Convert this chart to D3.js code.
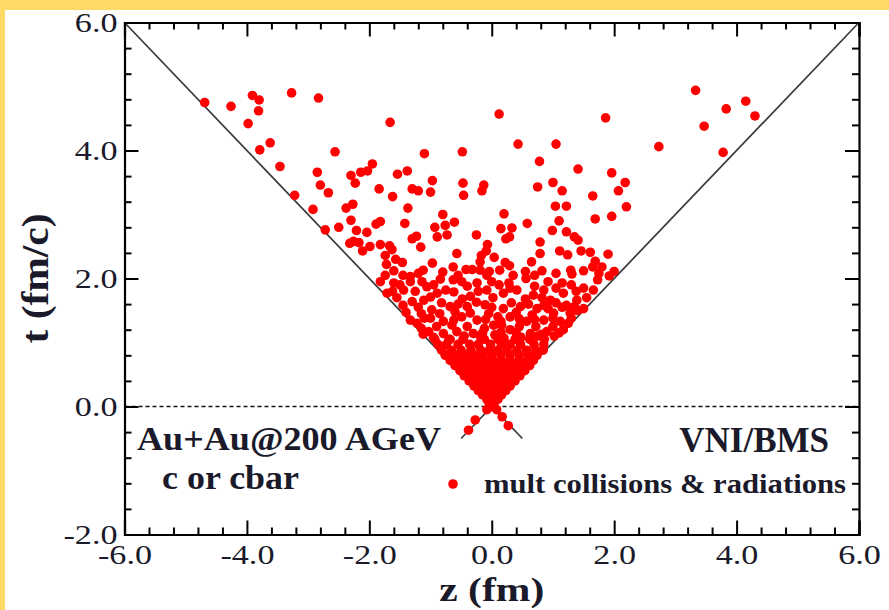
<!DOCTYPE html>
<html>
<head>
<meta charset="utf-8">
<script src="https://cdn.jsdelivr.net/npm/d3@7"></script>
<style>
  html, body { margin: 0; padding: 0; background: #ffffff; }
  svg { display: block; }
</style>
</head>
<body>
<svg id="chart" width="889" height="610"></svg>
<script>
// Axis ticks and labels
const zMajor = [-6, -4, -2, 0, 2, 4, 6];
const tMajor = [-2, 0, 2, 4, 6];
const zLabels = ["-6.0", "-4.0", "-2.0", "0.0", "2.0", "4.0", "6.0"];
const tLabels = ["-2.0", "0.0", "2.0", "4.0", "6.0"];

// Sparse collision / radiation points [z (fm), t (fm/c)]
const outerLeft = [
  [-4.69,4.75],[-4.26,4.69],[-3.91,4.86],[-3.80,4.79],[-3.81,4.62],[-3.98,4.42],[-3.27,4.90],[-2.83,4.82],
  [-1.66,4.44],[-3.62,4.12],[-3.79,4.01],[-2.56,3.98],[-3.46,3.75],[-2.85,3.66],[-2.80,3.46],[-2.67,3.34],
  [-3.22,3.30],[-2.92,3.08],[-2.72,2.76],[-2.50,2.80],[-2.30,3.61],[-2.23,3.49],[-2.14,3.66],[-2.03,3.68],
  [-1.95,3.79],[-1.84,3.40],[-1.62,3.28],[-1.54,3.63],[-2.27,3.16],[-2.38,3.10],[-2.30,2.91],[-1.89,2.85],
  [-1.82,2.89],[-2.21,2.75],[-2.04,2.72],[-2.32,2.55],[-2.26,2.58],[-2.17,2.56],[-2.11,2.43],[-1.99,2.50],
  [-1.82,2.53],[-1.67,2.51],[-1.74,2.36],[-1.57,2.30]
];
const outerMiddle = [
  [0.12,4.57],[1.86,4.51],[0.43,4.10],[1.05,4.10],[-1.10,3.95],[-0.48,3.98],[0.78,3.83],[1.41,3.71],
  [1.96,3.65],[2.18,3.50],[-1.38,3.68],[-0.97,3.53],[-0.47,3.49],[-0.13,3.46],[-0.16,3.37],[-0.46,3.30],
  [-1.00,3.35],[-1.30,3.40],[-1.20,3.37],[0.75,3.43],[1.00,3.50],[1.15,3.37],[1.65,3.29],[2.07,3.37],
  [2.20,3.12],[1.04,3.13],[1.22,3.13],[1.69,2.93],[1.96,2.97],[-1.37,3.10],[-0.80,3.00],[-0.61,2.88],
  [-0.76,2.83],[-0.93,2.80],[-0.89,2.65],[-0.73,2.68],[-1.42,2.86],[0.20,3.01],[0.15,2.78],[0.33,2.79],
  [0.58,2.86],[1.10,2.90],[0.99,2.75],[1.22,2.73],[1.35,2.65],[1.41,2.60],[-0.25,2.68],[0.23,2.62],
  [0.29,2.65],[0.79,2.57],[-1.30,2.62],[-1.23,2.66],[-1.16,2.49],[-1.63,2.45],[-1.46,2.25],[-1.72,2.22],
  [-0.07,2.53],[-0.09,2.43],[-0.17,2.36],[0.04,2.33],[-0.57,2.39],[-0.97,2.24],[-0.63,2.18],[-0.42,2.14],
  [-0.32,2.14],[-0.19,2.26],[-0.19,2.13],[-0.04,2.11],[0.13,2.13],[0.22,2.25],[0.29,2.20],[0.65,2.26],
  [0.79,2.39],[0.82,2.12],[1.11,2.43],[1.24,2.37],[1.46,2.43],[1.61,2.41],[1.90,2.38],[1.69,2.27],
  [1.65,2.18],[1.80,2.18],[2.00,2.11],[1.29,2.13],[1.31,2.07],[0.55,2.11],[-1.12,2.13],[-1.45,2.05],
  [-1.33,2.03],[-1.74,2.05],[-1.82,1.95],[1.73,1.98],[1.92,2.04],[0.92,1.95],[1.15,1.93],[0.56,2.00],
  [0.28,1.93],[0.00,1.95],[-0.24,1.93],[-0.63,1.98],[-0.84,1.99],[-1.14,1.95],[-1.60,1.93]
];
const outerRight = [
  [3.33,4.94],[3.83,4.65],[4.15,4.77],[4.30,4.54],[3.47,4.38],[3.78,3.97],[2.73,4.06]
];
const innerShell = [
  [-1.33,1.95],[1.50,1.85],[-0.08,2.05],[-0.49,1.95],[-1.06,1.87],[-1.44,1.82],[-1.71,1.77],[-1.30,1.64],
  [-1.11,1.66],[-0.89,1.77],[-0.62,1.79],[-0.35,1.72],[-0.08,1.82],[0.19,1.77],[0.41,1.82],[0.68,1.74],
  [0.96,1.66],[1.17,1.77],[1.39,1.66],[1.66,1.82],[1.50,1.53],[1.28,1.46],[1.01,1.46],[0.74,1.53],
  [0.47,1.56],[0.19,1.53],[-0.11,1.59],[-0.40,1.56],[-0.68,1.56],[-0.98,1.51],[-1.33,1.35],[-1.22,1.30],
  [-1.00,1.38],[-0.79,1.33],[-0.49,1.40],[-0.24,1.35],[0.03,1.27],[0.30,1.40],[0.57,1.33],[0.85,1.35],
  [1.12,1.33],[1.17,1.20],[0.90,1.17],[0.63,1.14],[-1.03,1.17],[-0.79,1.14],[-0.57,1.17],[-0.30,1.14],
  [0.30,1.20]
];
const innerFill = [
  [-1.50,1.90],[-0.95,1.90],[-0.40,1.88],[0.12,1.90],[0.70,1.88],[1.30,1.90],
  [-1.55,1.70],[-1.00,1.71],[-0.48,1.68],[0.02,1.70],[0.55,1.68],[0.82,1.70],[1.05,1.62],[1.55,1.70],
  [-1.45,1.58],[-0.82,1.62],[-0.25,1.63],[0.32,1.62],[0.60,1.60],[1.22,1.58],
  [-1.40,1.47],[-1.15,1.45],[-0.85,1.45],[-0.60,1.48],[-0.35,1.46],[-0.05,1.45],[0.10,1.40],[0.40,1.47],
  [0.66,1.43],[0.92,1.53],[1.40,1.50],
  [-1.15,1.22],[-0.90,1.25],[-0.65,1.27],[-0.40,1.25],[-0.12,1.22],[0.16,1.27],[0.45,1.25],[0.72,1.25],
  [1.00,1.25],[1.25,1.30],
  [-0.95,1.08],[-0.68,1.05],[-0.45,1.10],[-0.18,1.08],[0.05,1.12],[0.20,1.07],[0.48,1.08],[0.75,1.10],
  [1.02,1.10],
  [-1.60,2.12],[-1.20,2.08],[-0.80,2.10],[-0.55,2.05],[0.35,2.05],[0.70,2.05],[1.05,2.08],[1.50,2.12],
  [1.75,2.08],
  [-1.62,1.80],[-1.25,1.80],[-0.75,1.82],[-0.22,1.80],[0.30,1.85],[0.85,1.82],[1.05,1.85],[1.38,1.80],
  [-1.20,1.55],[-0.55,1.60],[0.00,1.55],[0.85,1.58],[1.15,1.55],[1.35,1.56],
  [-1.10,1.38],[-0.62,1.35],[-0.10,1.36],[0.15,1.33],[0.45,1.37],[0.70,1.36],[1.00,1.38],[1.30,1.38],
  [-1.12,1.13],[-0.15,1.15],[0.15,1.16],[0.40,1.15],[0.82,1.13],[1.10,1.15]
];
// Dense early-time core, listed row by row (t, then the z of each point)
const coreRows = [
  { t: 1.05, z: [-0.93,-0.70,-0.47,-0.12,0.10,0.38,0.62,0.86] },
  { t: 0.97, z: [-0.88,-0.74,-0.55,-0.36,-0.22,-0.02,0.16,0.30,0.47,0.69,0.85] },
  { t: 0.88, z: [-0.82,-0.66,-0.50,-0.34,-0.18,-0.04,0.10,0.25,0.41,0.57,0.72,0.84] },
  { t: 0.80, z: [-0.76,-0.60,-0.45,-0.30,-0.15,0.00,0.15,0.30,0.45,0.60,0.74] },
  { t: 0.72, z: [-0.68,-0.54,-0.40,-0.26,-0.12,0.02,0.16,0.30,0.44,0.58,0.68] },
  { t: 0.64, z: [-0.60,-0.46,-0.32,-0.18,-0.04,0.10,0.24,0.38,0.52,0.62] },
  { t: 0.56, z: [-0.52,-0.38,-0.24,-0.10,0.04,0.18,0.32,0.46,0.54] },
  { t: 0.48, z: [-0.45,-0.31,-0.17,-0.03,0.11,0.25,0.38,0.46] },
  { t: 0.40, z: [-0.37,-0.24,-0.10,0.04,0.18,0.30,0.38] },
  { t: 0.32, z: [-0.29,-0.16,-0.03,0.10,0.22,0.30] },
  { t: 0.25, z: [-0.22,-0.09,0.04,0.16,0.23] },
  { t: 0.18, z: [-0.15,-0.03,0.09,0.16] },
  { t: 0.11, z: [-0.08,0.03,0.10] },
  { t: 0.05, z: [-0.04,0.04] },
  { t: 0.00, z: [0.00] }
];
const pastCone = [
  [-0.08,-0.05],[0.08,-0.05],[-0.27,-0.21],[-0.38,-0.37],[0.17,-0.16],[0.27,-0.30]
];
// Light-cone guide lines (z, t end points)
const coneLines = [
  [[-6, 6], [0.5, -0.5]],
  [[6, 6], [-0.5, -0.5]]
];

const svg = d3.select("#chart");
const W = 889, H = 610;
const serif = "'Liberation Serif', 'Times New Roman', Times, serif";
const ink = "#1a1a2a";

// page frame
svg.append("rect").attr("x", 0).attr("y", 0).attr("width", W).attr("height", H).attr("fill", "#ffffff");
svg.append("rect").attr("x", 0).attr("y", 0).attr("width", W).attr("height", 10).attr("fill", "#fdd966");
svg.append("rect").attr("x", 0).attr("y", 0).attr("width", 5).attr("height", H).attr("fill", "#fdd966");

const x = d3.scaleLinear().domain([-6, 6]).range([124.5, 859]);
const y = d3.scaleLinear().domain([-2, 6]).range([534.5, 22.5]);

const minorZ = d3.range(-30, 31, 2).map(v => v / 5).filter(v => !zMajor.includes(v));
const minorT = d3.range(-10, 31, 2).map(v => v / 5).filter(v => !tMajor.includes(v));

// zero line
svg.append("line")
  .attr("x1", x(-6)).attr("x2", x(6)).attr("y1", y(0)).attr("y2", y(0))
  .attr("stroke", "#111").attr("stroke-width", 1.6).attr("stroke-dasharray", "4,3");

// light cone
const lineGen = d3.line().x(d => x(d[0])).y(d => y(d[1]));
svg.selectAll("path.cone").data(coneLines).join("path")
  .attr("class", "cone").attr("d", lineGen)
  .attr("fill", "none").attr("stroke", "#3a3a3a").attr("stroke-width", 1.7);

// points
const allPoints = []
  .concat(outerLeft, outerMiddle, outerRight, innerShell, innerFill, pastCone)
  .concat(coreRows.flatMap(r => r.z.map(z => [z, r.t])));
const R = 4.8;
svg.append("g").selectAll("circle").data(allPoints).join("circle")
  .attr("cx", d => x(d[0])).attr("cy", d => y(d[1])).attr("r", R)
  .attr("fill", "#ff0000");

// axes with inward ticks on all four sides
function styleAxis(g) {
  g.selectAll("path.domain").attr("stroke", "#000").attr("stroke-width", 2.2);
  g.selectAll(".tick line").attr("stroke", "#000").attr("stroke-width", 2);
}
function widen(sel, k) {
  sel.each(function () {
    const w = this.getComputedTextLength();
    d3.select(this).attr("textLength", w * k).attr("lengthAdjust", "spacingAndGlyphs");
  });
}

const axisB = svg.append("g").attr("transform", `translate(0,${y(-2)})`)
  .call(d3.axisBottom(x).tickValues(zMajor).tickSize(-14).tickPadding(10)
    .tickFormat((d, i) => zLabels[i]));
axisB.selectAll("text").attr("font-family", serif).attr("font-size", 28).attr("fill", ink)
  .attr("dy", "0.7em");
widen(axisB.selectAll("text"), 1.22);
styleAxis(axisB);
const axisBMinor = svg.append("g").attr("transform", `translate(0,${y(-2)})`)
  .call(d3.axisBottom(x).tickValues(minorZ).tickSize(-7).tickFormat(""));
axisBMinor.select("path.domain").remove();
styleAxis(axisBMinor);

const axisT = svg.append("g").attr("transform", `translate(0,${y(6)})`)
  .call(d3.axisTop(x).tickValues(zMajor).tickSize(-14).tickFormat(""));
styleAxis(axisT);
const axisTMinor = svg.append("g").attr("transform", `translate(0,${y(6)})`)
  .call(d3.axisTop(x).tickValues(minorZ).tickSize(-7).tickFormat(""));
axisTMinor.select("path.domain").remove();
styleAxis(axisTMinor);

const axisL = svg.append("g").attr("transform", `translate(${x(-6)},0)`)
  .call(d3.axisLeft(y).tickValues(tMajor).tickSize(-14).tickPadding(7)
    .tickFormat((d, i) => tLabels[i]));
axisL.selectAll("text").attr("font-family", serif).attr("font-size", 28).attr("fill", ink)
  .attr("dy", "0.33em");
widen(axisL.selectAll("text"), 1.22);
styleAxis(axisL);
const axisLMinor = svg.append("g").attr("transform", `translate(${x(-6)},0)`)
  .call(d3.axisLeft(y).tickValues(minorT).tickSize(-7).tickFormat(""));
axisLMinor.select("path.domain").remove();
styleAxis(axisLMinor);

const axisR = svg.append("g").attr("transform", `translate(${x(6)},0)`)
  .call(d3.axisRight(y).tickValues(tMajor).tickSize(-14).tickFormat(""));
styleAxis(axisR);
const axisRMinor = svg.append("g").attr("transform", `translate(${x(6)},0)`)
  .call(d3.axisRight(y).tickValues(minorT).tickSize(-7).tickFormat(""));
axisRMinor.select("path.domain").remove();
styleAxis(axisRMinor);

// axis titles
svg.append("text")
  .attr("transform", `translate(48,${(y(6) + y(-2)) / 2}) rotate(-90)`)
  .attr("text-anchor", "middle")
  .attr("font-family", serif).attr("font-weight", "bold").attr("font-size", 38).attr("fill", ink)
  .attr("textLength", 130).attr("lengthAdjust", "spacingAndGlyphs")
  .text("t (fm/c)");
svg.append("text")
  .attr("x", (x(-6) + x(6)) / 2).attr("y", 601)
  .attr("text-anchor", "middle")
  .attr("font-family", serif).attr("font-weight", "bold").attr("font-size", 34).attr("fill", ink)
  .attr("textLength", 105).attr("lengthAdjust", "spacingAndGlyphs")
  .text("z (fm)");

// annotations
const note = (txt, px, py, size, anchor, len) => {
  const el = svg.append("text")
    .attr("x", px).attr("y", py).attr("text-anchor", anchor || "start")
    .attr("font-family", serif).attr("font-weight", "bold").attr("font-size", size).attr("fill", ink)
    .text(txt);
  if (len) el.attr("textLength", len).attr("lengthAdjust", "spacingAndGlyphs");
  return el;
};
note("Au+Au@200 AGeV", 137, 450, 34, "start", 304);
note("c or cbar", 162, 489, 34, "start", 137);
note("VNI/BMS", 829, 452, 35, "end");
note("mult collisions & radiations", 484, 493, 27, "start", 362);
svg.append("circle").attr("cx", 453).attr("cy", 484).attr("r", R).attr("fill", "#ff0000");
</script>
</body>
</html>
